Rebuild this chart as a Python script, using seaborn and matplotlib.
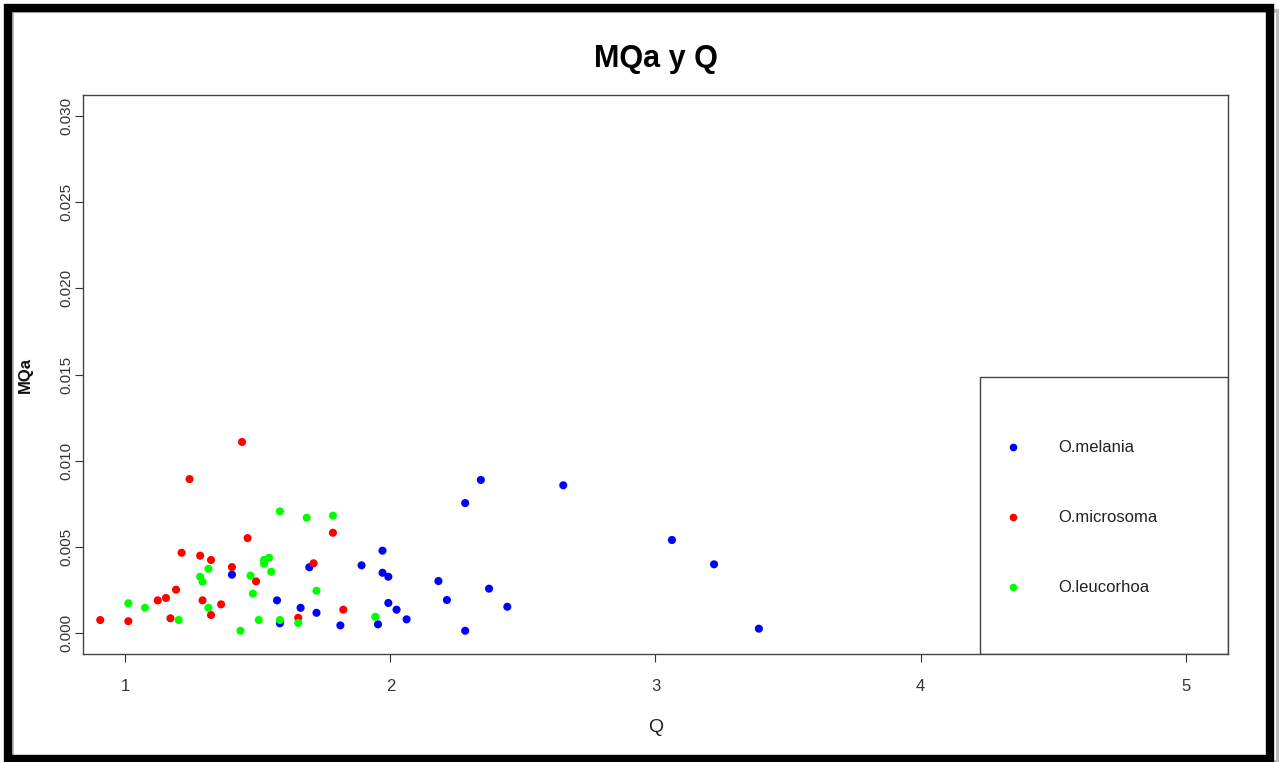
import numpy as np
import pandas as pd
import matplotlib
matplotlib.use("Agg")
import matplotlib.pyplot as plt
import matplotlib.patches as mpatches
from matplotlib import font_manager
import seaborn as sns

# %% data
species = ["O.melania", "O.microsoma", "O.leucorhoa"]
colors = ["#0000FF", "#FF0000", "#00FF00"]

q_melania = [1.402, 1.694, 1.891, 1.572, 1.661, 1.721, 1.583, 1.811, 1.953,
             2.341, 2.652, 2.282, 1.970, 1.970, 1.992, 2.181, 2.372, 2.213,
             1.992, 2.023, 2.441, 2.061, 2.282, 3.062, 3.221, 3.390]
mqa_melania = [0.00340, 0.00383, 0.00394, 0.00191, 0.00148, 0.00119, 0.00058,
               0.00046, 0.00052, 0.00889, 0.00858, 0.00755, 0.00479, 0.00351,
               0.00328, 0.00303, 0.00259, 0.00193, 0.00176, 0.00137, 0.00154,
               0.00081, 0.00015, 0.00541, 0.00400, 0.00027]

q_microsoma = [1.440, 1.242, 1.461, 1.783, 1.212, 1.282, 1.323, 1.402, 1.710,
               1.493, 1.191, 1.122, 1.153, 1.291, 1.361, 1.822, 0.905, 1.011,
               1.170, 1.323, 1.652]
mqa_microsoma = [0.01109, 0.00894, 0.00552, 0.00583, 0.00467, 0.00450, 0.00425,
                 0.00384, 0.00406, 0.00301, 0.00253, 0.00191, 0.00205, 0.00191,
                 0.00168, 0.00137, 0.00077, 0.00070, 0.00087, 0.00106, 0.00090]

q_leucorhoa = [1.583, 1.684, 1.783, 1.523, 1.542, 1.523, 1.313, 1.282, 1.291,
               1.472, 1.550, 1.481, 1.721, 1.011, 1.074, 1.313, 1.201, 1.503,
               1.583, 1.652, 1.434, 1.943]
mqa_leucorhoa = [0.00707, 0.00670, 0.00682, 0.00425, 0.00438, 0.00403, 0.00374,
                 0.00328, 0.00299, 0.00334, 0.00357, 0.00230, 0.00247, 0.00174,
                 0.00148, 0.00148, 0.00077, 0.00077, 0.00077, 0.00060, 0.00015,
                 0.00096]

x_ticks = [1, 2, 3, 4, 5]
y_ticks = [0.000, 0.005, 0.010, 0.015, 0.020, 0.025, 0.030]

df = pd.concat([
    pd.DataFrame({"Q": q_melania, "MQa": mqa_melania, "sp": species[0]}),
    pd.DataFrame({"Q": q_microsoma, "MQa": mqa_microsoma, "sp": species[1]}),
    pd.DataFrame({"Q": q_leucorhoa, "MQa": mqa_leucorhoa, "sp": species[2]}),
], ignore_index=True)

# %% style
sns.set_theme(style="white")
plt.rcParams["font.family"] = ["Liberation Sans", "DejaVu Sans"]
installed = {f.name for f in font_manager.fontManager.ttflist}
narrow = "Liberation Sans Narrow" if "Liberation Sans Narrow" in installed else "Liberation Sans"

fig = plt.figure(figsize=(12.79, 7.62), dpi=100)
ax = fig.add_axes([0.0649, 0.1417, 0.8952, 0.7336])

sns.scatterplot(data=df, x="Q", y="MQa", hue="sp", palette=dict(zip(species, colors)),
                s=34, linewidth=0, ax=ax, legend=False)

# R style 4% padding around xlim=(1,5), ylim=(0,0.03)
ax.set_xlim(1 - 0.16, 5 + 0.16)
ax.set_ylim(-0.0012, 0.0312)
ax.set_xticks(x_ticks)
ax.set_xticklabels([str(t) for t in x_ticks], fontfamily=narrow, fontsize=12)
ax.set_yticks(y_ticks)
ax.set_yticklabels([f"{t:.3f}" for t in y_ticks], rotation=90, va="center", fontsize=11)
ax.tick_params(axis="both", direction="out", length=6, width=0.8, color="#333333",
               labelcolor="#333333", bottom=True, left=True)
ax.tick_params(axis="x", pad=12)
ax.tick_params(axis="y", pad=1)
for sp in ax.spines.values():
    sp.set_color("#444444")
    sp.set_linewidth(1.0)

ax.set_xlabel("Q", fontfamily=narrow, fontsize=14, labelpad=18, color="#222222")
ax.set_ylabel("MQa", fontsize=12, fontweight="bold", labelpad=19, color="#111111")
ax.set_title("MQa y Q", fontsize=22, fontweight="bold", pad=20, color="black")

# legend box (bottom right, like R legend)
ax.add_patch(mpatches.Rectangle((0.7834, 0.0), 0.2166, 0.4955, transform=ax.transAxes,
                                fill=False, edgecolor="#444444", linewidth=1.0, zorder=5))
handles = [plt.Line2D([], [], marker="o", linestyle="", markersize=5.5,
                      markerfacecolor=c, markeredgewidth=0) for c in colors]
leg = ax.legend(handles, species, loc="upper left", bbox_to_anchor=(0.798, 0.397),
                frameon=False, handlelength=1.0, handletextpad=2.2, labelspacing=3.3,
                borderpad=0, prop={"family": narrow, "size": 12})
for t in leg.get_texts():
    t.set_color("#222222")

# black picture frame with a light shadow on the right
fig.patches.append(mpatches.Rectangle((0.0095, 0.0), 0.9895, 0.985, transform=fig.transFigure,
                                      fill=False, edgecolor="#bbbbbb", linewidth=3, zorder=9))
fig.patches.append(mpatches.Rectangle((0.00625, 0.004), 0.9864, 0.9855, transform=fig.transFigure,
                                      fill=False, edgecolor="black", linewidth=6, zorder=10))

fig.savefig("out.png", dpi=100, facecolor="white")
